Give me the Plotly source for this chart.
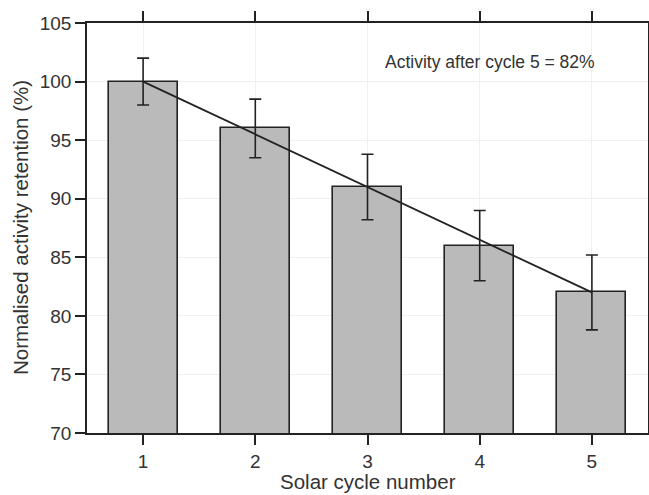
import plotly.graph_objects as go

cycles = [1, 2, 3, 4, 5]
retention = [100, 96, 91, 86, 82]
err_plus = [2.0, 2.5, 2.8, 3.0, 3.2]
err_minus = [2.0, 2.5, 2.8, 3.0, 3.2]
fit_x = [1, 5]
fit_y = [100, 82]
y_ticks = [70, 75, 80, 85, 90, 95, 100, 105]

FONT = "Liberation Sans, Arial, sans-serif"
TXT = "#333333"

fig = go.Figure()
fig.add_trace(go.Bar(
    x=cycles, y=retention, width=0.615,
    marker=dict(color="#bababa", line=dict(color="#222222", width=1.6)),
    error_y=dict(type="data", symmetric=False, array=err_plus, arrayminus=err_minus,
                 color="#222222", thickness=1.6, width=6),
    showlegend=False, hoverinfo="skip",
))
fig.add_trace(go.Scatter(
    x=fit_x, y=fit_y, mode="lines",
    line=dict(color="#222222", width=1.8), showlegend=False, hoverinfo="skip",
))

fig.add_annotation(x=4.09, y=101.7, xref="x", yref="y", text="Activity after cycle 5 = 82%",
                   showarrow=False, font=dict(family=FONT, size=17.5, color=TXT))
fig.add_annotation(x=0.5, y=0, xref="paper", yref="paper", yshift=-35,
                   text="Solar cycle number", showarrow=False, yanchor="top", xanchor="center",
                   font=dict(family=FONT, size=20.5, color=TXT))
fig.add_annotation(x=0, y=0.5, xref="paper", yref="paper", xshift=-67,
                   text="Normalised activity retention (%)", showarrow=False, textangle=-90,
                   xanchor="center", yanchor="middle",
                   font=dict(family=FONT, size=20.5, color=TXT))

fig.update_layout(
    width=649, height=495,
    margin=dict(l=87, r=1, t=23, b=62),
    paper_bgcolor="white", plot_bgcolor="white",
    font=dict(family=FONT, color=TXT),
    bargap=0,
)
fig.update_xaxes(
    range=[0.5, 5.5], tickvals=cycles, ticks="outside", ticklen=10, tickwidth=1.6,
    tickcolor="#222222", showline=True, linecolor="#222222", linewidth=1.6,
    mirror="ticks", showgrid=True, gridcolor="#f0f0f0", gridwidth=1,
    tickfont=dict(size=19, family=FONT, color=TXT), automargin=False,
    zeroline=False,
)
fig.update_yaxes(
    range=[70, 105], tickvals=y_ticks, ticks="outside", ticklen=10, tickwidth=1.6,
    tickcolor="#222222", showline=True, linecolor="#222222", linewidth=1.6,
    mirror=True, showgrid=True, gridcolor="#f0f0f0", gridwidth=1,
    tickfont=dict(size=19, family=FONT, color=TXT), automargin=False,
    zeroline=False,
)

fig.write_html("out.html", config={"displayModeBar": False},
               post_script="document.body.style.margin='0';document.body.style.overflow='hidden';")
